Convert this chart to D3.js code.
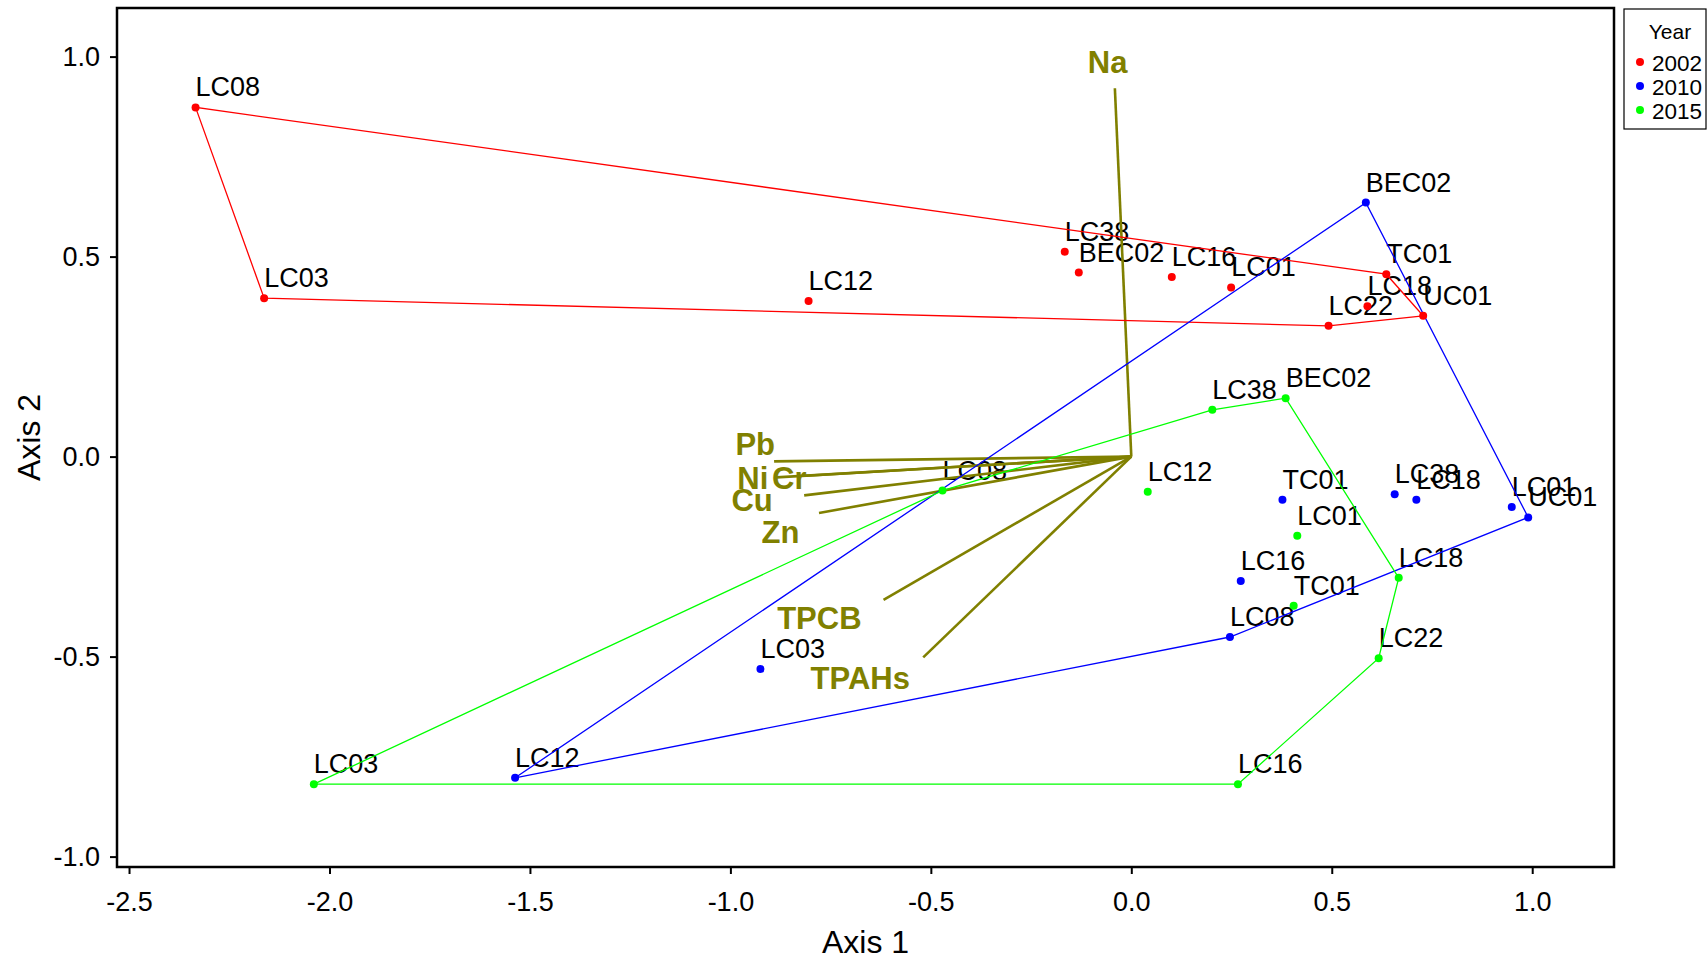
<!DOCTYPE html>
<html>
<head>
<meta charset="utf-8">
<script src="https://cdn.jsdelivr.net/npm/d3@7"></script>
<style>
  html, body { margin: 0; padding: 0; background: #fff; }
  svg { display: block; font-family: "Liberation Sans", Arial, Helvetica, sans-serif; }
</style>
</head>
<body>
<svg id="chart" width="1707" height="958"></svg>
<script>
// ---- data (ordination scores) ----
const years = ["2002", "2010", "2015"];
const yearColors = ["#FF0000", "#0000FF", "#00FF00"];

const sites2002 = ["LC08", "LC03", "LC12", "LC38", "BEC02", "LC16", "LC01", "TC01", "LC18", "LC22", "UC01"];
const axis1_2002 = [-2.334, -2.163, -0.805, -0.166, -0.131, 0.101, 0.249, 0.636, 0.589, 0.492, 0.728];
const axis2_2002 = [0.873, 0.396, 0.389, 0.512, 0.460, 0.449, 0.423, 0.456, 0.376, 0.327, 0.352];

const sites2010 = ["BEC02", "LC01", "UC01", "LC38", "LC18", "TC01", "LC16", "LC08", "LC03", "LC12"];
const axis1_2010 = [0.585, 0.949, 0.990, 0.657, 0.711, 0.377, 0.273, 0.246, -0.925, -1.537];
const axis2_2010 = [0.635, -0.126, -0.152, -0.094, -0.108, -0.108, -0.311, -0.451, -0.531, -0.803];

const sites2015 = ["LC38", "BEC02", "LC01", "LC18", "TC01", "LC22", "LC16", "LC03", "LC08", "LC12"];
const axis1_2015 = [0.202, 0.385, 0.414, 0.667, 0.405, 0.617, 0.266, -2.039, -0.471, 0.041];
const axis2_2015 = [0.117, 0.146, -0.198, -0.303, -0.373, -0.504, -0.819, -0.819, -0.085, -0.088];

// environmental vectors (arrow tips) and their label positions
const envVars = ["Na", "Pb", "Ni", "Cr", "Cu", "Zn", "TPCB", "TPAHs"];
const envAxis1 = [-0.041, -0.891, -0.885, -0.812, -0.816, -0.779, -0.618, -0.519];
const envAxis2 = [0.921, -0.012, -0.052, -0.048, -0.097, -0.141, -0.358, -0.502];
const envLabelAxis1 = [-0.059, -0.938, -0.944, -0.853, -0.946, -0.875, -0.778, -0.676];
const envLabelAxis2 = [0.988, 0.031, -0.052, -0.052, -0.107, -0.189, -0.403, -0.553];

const xTicks = [-2.5, -2.0, -1.5, -1.0, -0.5, 0.0, 0.5, 1.0];
const yTicks = [-1.0, -0.5, 0.0, 0.5, 1.0];

// ---- layout ----
const plot = { left: 117, right: 1614, top: 8, bottom: 867 };
const svg = d3.select("#chart");

const x = d3.scaleLinear().domain([-2.530, 1.204]).range([plot.left, plot.right]);
const y = d3.scaleLinear().domain([-1.026, 1.1215]).range([plot.bottom, plot.top]);

const groups = [
  { year: years[0], color: yearColors[0], names: sites2002, a1: axis1_2002, a2: axis2_2002 },
  { year: years[1], color: yearColors[1], names: sites2010, a1: axis1_2010, a2: axis2_2010 },
  { year: years[2], color: yearColors[2], names: sites2015, a1: axis1_2015, a2: axis2_2015 }
].map(g => ({ ...g, pts: g.names.map((n, i) => ({ name: n, a1: g.a1[i], a2: g.a2[i] })) }));

const fmt = d => d.toFixed(1);

// axes
const xAxis = svg.append("g")
  .attr("transform", `translate(0,${plot.bottom})`)
  .call(d3.axisBottom(x).tickValues(xTicks).tickFormat(fmt).tickSize(7).tickPadding(18));
const yAxis = svg.append("g")
  .attr("transform", `translate(${plot.left},0)`)
  .call(d3.axisLeft(y).tickValues(yTicks).tickFormat(fmt).tickSize(7).tickPadding(10));
[xAxis, yAxis].forEach(a => {
  a.select(".domain").remove();
  a.selectAll(".tick line").attr("stroke", "#000").attr("stroke-width", 2);
  a.selectAll(".tick text").attr("fill", "#000").style("font-size", "27px")
    .style("font-family", '"Liberation Sans", Arial, sans-serif');
});

// axis titles
svg.append("text").attr("x", (plot.left + plot.right) / 2).attr("y", 953)
  .attr("text-anchor", "middle").style("font-size", "32px").text("Axis 1");
svg.append("text").attr("transform", `translate(40,${(plot.top + plot.bottom) / 2}) rotate(-90)`)
  .attr("text-anchor", "middle").style("font-size", "32px").text("Axis 2");

const content = svg.append("g");

// site labels
groups.forEach(g => {
  content.append("g").selectAll("text").data(g.pts).join("text")
    .attr("x", d => x(d.a1)).attr("y", d => y(d.a2) - 11)
    .attr("text-anchor", "start").style("font-size", "27px").attr("fill", "#000")
    .text(d => d.name);
});

// environmental arrows
const env = envVars.map((v, i) => ({ name: v, a1: envAxis1[i], a2: envAxis2[i], l1: envLabelAxis1[i], l2: envLabelAxis2[i] }));
content.append("g").selectAll("line").data(env).join("line")
  .attr("x1", x(0)).attr("y1", y(0))
  .attr("x2", d => x(d.a1)).attr("y2", d => y(d.a2))
  .attr("stroke", "#808000").attr("stroke-width", 2.6);
content.append("g").selectAll("text").data(env).join("text")
  .attr("x", d => x(d.l1)).attr("y", d => y(d.l2)).attr("dy", "0.36em")
  .attr("text-anchor", "middle").attr("fill", "#808000")
  .style("font-size", "31px").style("font-weight", "bold")
  .text(d => d.name);

// convex hulls
const line = d3.line().x(d => x(d[0])).y(d => y(d[1])).curve(d3.curveLinearClosed);
groups.forEach(g => {
  const hull = d3.polygonHull(g.pts.map(p => [p.a1, p.a2]));
  content.append("path").attr("d", line(hull))
    .attr("fill", "none").attr("stroke", g.color).attr("stroke-width", 1.3);
});

// points
groups.forEach(g => {
  content.append("g").selectAll("circle").data(g.pts).join("circle")
    .attr("cx", d => x(d.a1)).attr("cy", d => y(d.a2)).attr("r", 4)
    .attr("fill", g.color);
});

// frame
svg.append("rect").attr("x", plot.left).attr("y", plot.top)
  .attr("width", plot.right - plot.left).attr("height", plot.bottom - plot.top)
  .attr("fill", "none").attr("stroke", "#000").attr("stroke-width", 2.5);

// legend
const lg = svg.append("g");
lg.append("rect").attr("x", 1624).attr("y", 9).attr("width", 82).attr("height", 120)
  .attr("fill", "#fff").attr("stroke", "#000").attr("stroke-width", 1.2);
lg.append("text").attr("x", 1670).attr("y", 39).attr("text-anchor", "middle")
  .style("font-size", "21px").text("Year");
const legendY = d3.scalePoint().domain(years).range([62, 110]);
lg.selectAll("circle.leg").data(years).join("circle")
  .attr("cx", 1640).attr("cy", d => legendY(d)).attr("r", 4)
  .attr("fill", (d, i) => yearColors[i]);
lg.selectAll("text.leg").data(years).join("text")
  .attr("x", 1652).attr("y", d => legendY(d) + 8.5)
  .style("font-size", "22.5px").text(d => d);
</script>
</body>
</html>
